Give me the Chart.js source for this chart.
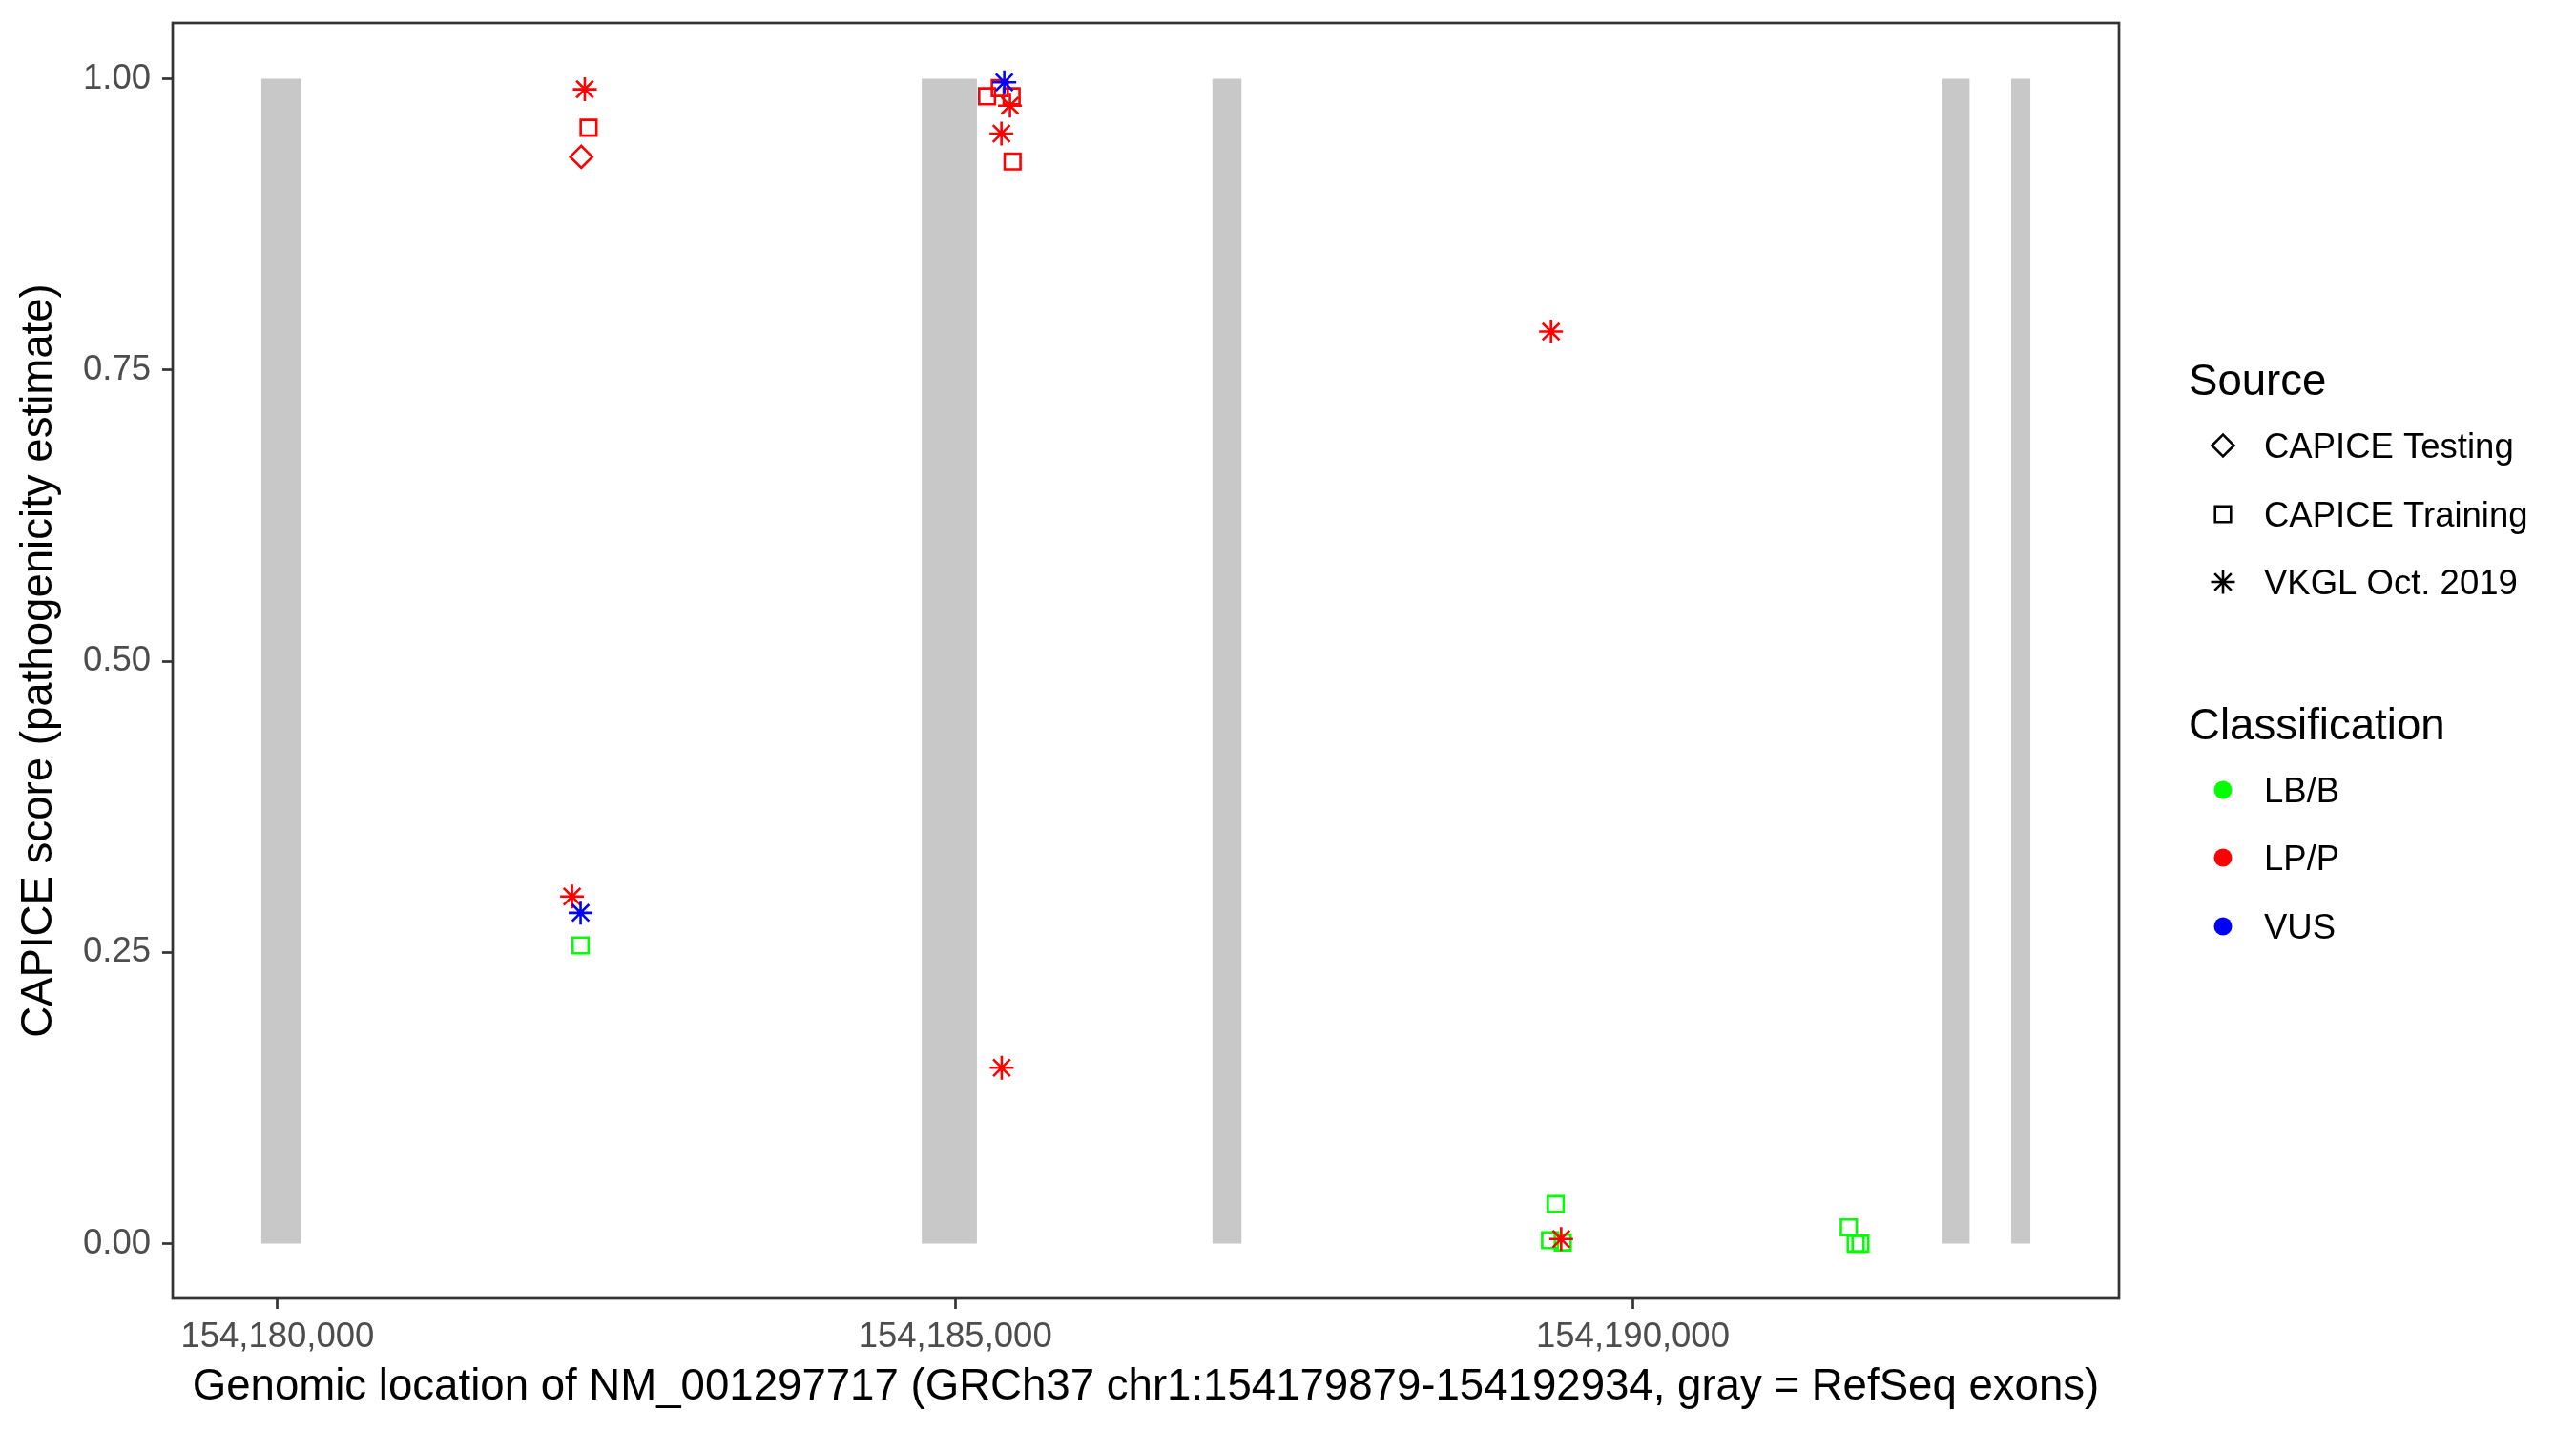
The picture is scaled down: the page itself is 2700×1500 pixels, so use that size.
<!DOCTYPE html>
<html>
<head>
<meta charset="utf-8">
<title>CAPICE scores along NM_001297717</title>
<script src="https://cdn.jsdelivr.net/npm/chart.js@4"></script>
<style>
  html, body { margin: 0; padding: 0; background: #ffffff; }
</style>
</head>
<body>
<canvas id="capice-chart" width="2700" height="1500"></canvas>
<script>
// gene region (GRCh37 chr1) and RefSeq exons
var geneStart = 154179879;
var geneEnd = 154192934;
var exonStarts = [154179879, 154184753, 154186896, 154192283, 154192791];
var exonEnds = [154180176, 154185160, 154187114, 154192486, 154192934];

// CAPICE Testing
var testingPos = [154182241];
var testingScore = [0.933];
var testingClass = ["LP/P"];

// CAPICE Training
var trainingPos = [154182295, 154182236, 154185235, 154185329, 154185416, 154185423,
    154189431, 154189389, 154189483, 154191593, 154191644, 154191679];
var trainingScore = [0.958, 0.256, 0.985, 0.992, 0.985, 0.929,
    0.034, 0.003, 0.001, 0.014, 0.000, 0.000];
var trainingClass = ["LP/P", "LB/B", "LP/P", "LP/P", "LP/P", "LP/P",
    "LB/B", "LB/B", "LB/B", "LB/B", "LB/B", "LB/B"];

// VKGL Oct. 2019
var vkglPos = [154182267, 154182173, 154185404, 154185341, 154185343, 154189396,
    154189471, 154182236, 154185362];
var vkglScore = [0.991, 0.298, 0.977, 0.953, 0.151, 0.783,
    0.004, 0.284, 0.997];
var vkglClass = ["LP/P", "LP/P", "LP/P", "LP/P", "LP/P", "LP/P",
    "LP/P", "VUS", "VUS"];

var xTicks = [154180000, 154185000, 154190000];
var yTicks = [0, 0.25, 0.5, 0.75, 1];

var sourceNames = ["CAPICE Testing", "CAPICE Training", "VKGL Oct. 2019"];
var classNames = ["LB/B", "LP/P", "VUS"];

var classColour = {"LB/B": "#00ff00", "LP/P": "#ff0000", "VUS": "#0000ff"};
var sourceShape = {"CAPICE Testing": "rectRot", "CAPICE Training": "rect", "VKGL Oct. 2019": "star"};
var shapeRadius = {"rectRot": 11.5, "rect": 11.7, "star": 12.5};

var FONT = '"Liberation Sans", Arial, Helvetica, sans-serif';
Chart.defaults.font.family = FONT;

var pad = (geneEnd - geneStart) * 0.05;

function pointsOf(pos, score) {
    var out = [];
    for (var i = 0; i < pos.length; i++) {
        out.push({x: pos[i], y: score[i]});
    }
    return out;
}

function sourceDataset(name, pos, score, cls, order) {
    var shape = sourceShape[name];
    return {
        type: 'scatter',
        label: name,
        data: pointsOf(pos, score),
        pointStyle: shape,
        pointRadius: shapeRadius[shape],
        pointBorderWidth: 2.6,
        pointBorderColor: cls.map(function (c) { return classColour[c]; }),
        pointBackgroundColor: 'rgba(0,0,0,0)',
        showLine: false,
        order: order
    };
}

var datasets = [];
for (var i = 0; i < exonStarts.length; i++) {
    datasets.push({
        type: 'line',
        label: 'exon ' + (i + 1),
        data: [{x: exonStarts[i], y: 1}, {x: exonEnds[i], y: 1}],
        fill: 'origin',
        backgroundColor: '#c8c8c8',
        borderColor: 'rgba(0,0,0,0)',
        borderWidth: 0,
        pointRadius: 0,
        order: 10
    });
}
datasets.push(sourceDataset("CAPICE Testing", testingPos, testingScore, testingClass, 2));
datasets.push(sourceDataset("CAPICE Training", trainingPos, trainingScore, trainingClass, 1));
datasets.push(sourceDataset("VKGL Oct. 2019", vkglPos, vkglScore, vkglClass, 0));

// panel border on top of the data, like ggplot's theme_bw
var panelBorder = {
    id: 'panelBorder',
    afterDatasetsDraw: function (chart) {
        var a = chart.chartArea, ctx = chart.ctx;
        ctx.save();
        ctx.strokeStyle = '#333333';
        ctx.lineWidth = 2.7;
        ctx.strokeRect(a.left, a.top, a.right - a.left, a.bottom - a.top);
        ctx.restore();
    }
};

function drawKey(ctx, shape, x, y, colour) {
    ctx.save();
    ctx.strokeStyle = colour;
    ctx.lineWidth = 2.6;
    if (shape === 'dot') {
        ctx.fillStyle = colour;
        ctx.beginPath();
        ctx.arc(x, y, 9.5, 0, Math.PI * 2);
        ctx.fill();
    } else {
        ctx.fillStyle = 'rgba(0,0,0,0)';
        Chart.helpers.drawPoint(ctx, {pointStyle: shape, radius: shapeRadius[shape], rotation: 0, borderWidth: 2.6}, x, y);
    }
    ctx.restore();
}

// two-part legend drawn at the right
var ggLegend = {
    id: 'ggLegend',
    afterDraw: function (chart) {
        var ctx = chart.ctx;
        var keyX = 2330, textX = 2373;
        ctx.save();
        ctx.textAlign = 'left';
        ctx.textBaseline = 'alphabetic';
        ctx.fillStyle = '#000000';

        ctx.font = '45.6px ' + FONT;
        ctx.fillText('Source', 2294, 414);
        ctx.font = '36.5px ' + FONT;
        var srcY = [467, 539, 610];
        for (var i = 0; i < sourceNames.length; i++) {
            ctx.fillStyle = '#000000';
            ctx.fillText(sourceNames[i], textX, srcY[i] + 13);
            drawKey(ctx, sourceShape[sourceNames[i]], keyX, srcY[i], '#000000');
        }

        ctx.fillStyle = '#000000';
        ctx.font = '45.6px ' + FONT;
        ctx.fillText('Classification', 2294, 775);
        ctx.font = '36.5px ' + FONT;
        var clsY = [828, 899, 971];
        for (var j = 0; j < classNames.length; j++) {
            ctx.fillStyle = '#000000';
            ctx.fillText(classNames[j], textX, clsY[j] + 13);
            drawKey(ctx, 'dot', keyX, clsY[j], classColour[classNames[j]]);
        }
        ctx.restore();
    }
};

var axisGrid = {
    drawOnChartArea: false,
    drawTicks: true,
    tickLength: 11,
    tickColor: '#333333',
    tickWidth: 2.7
};

var chart = new Chart(document.getElementById('capice-chart').getContext('2d'), {
    type: 'scatter',
    data: {datasets: datasets},
    plugins: [panelBorder, ggLegend],
    options: {
        responsive: false,
        animation: false,
        devicePixelRatio: 1,
        events: [],
        layout: {padding: {left: 0, right: 479, top: 24, bottom: 0}},
        plugins: {
            legend: {display: false},
            tooltip: {enabled: false}
        },
        scales: {
            x: {
                type: 'linear',
                min: geneStart - pad,
                max: geneEnd + pad,
                afterBuildTicks: function (s) {
                    s.ticks = xTicks.map(function (v) { return {value: v}; });
                },
                afterFit: function (s) {
                    s.height = 139;
                    s.paddingLeft = 0;
                    s.paddingRight = 0;
                },
                ticks: {
                    autoSkip: false,
                    maxRotation: 0,
                    padding: 8,
                    color: '#4d4d4d',
                    font: {size: 36.5},
                    callback: function (v) { return Number(v).toLocaleString('en-US'); }
                },
                grid: axisGrid,
                border: {display: false},
                title: {
                    display: true,
                    text: 'Genomic location of NM_001297717 (GRCh37 chr1:154179879-154192934, gray = RefSeq exons)',
                    color: '#000000',
                    font: {size: 45.6, lineHeight: 1.2},
                    padding: {top: 0, bottom: 18}
                }
            },
            y: {
                type: 'linear',
                min: -0.047,
                max: 1.048,
                afterBuildTicks: function (s) {
                    s.ticks = yTicks.map(function (v) { return {value: v}; });
                },
                afterFit: function (s) {
                    s.width = 181;
                    s.paddingTop = 0;
                    s.paddingBottom = 0;
                },
                ticks: {
                    padding: 12,
                    color: '#4d4d4d',
                    font: {size: 36.5},
                    callback: function (v) { return Number(v).toFixed(2); }
                },
                grid: axisGrid,
                border: {display: false},
                title: {
                    display: true,
                    text: 'CAPICE score (pathogenicity estimate)',
                    color: '#000000',
                    font: {size: 45.6, lineHeight: 1.2},
                    padding: {top: 14, bottom: 0}
                }
            }
        }
    }
});
</script>
</body>
</html>
